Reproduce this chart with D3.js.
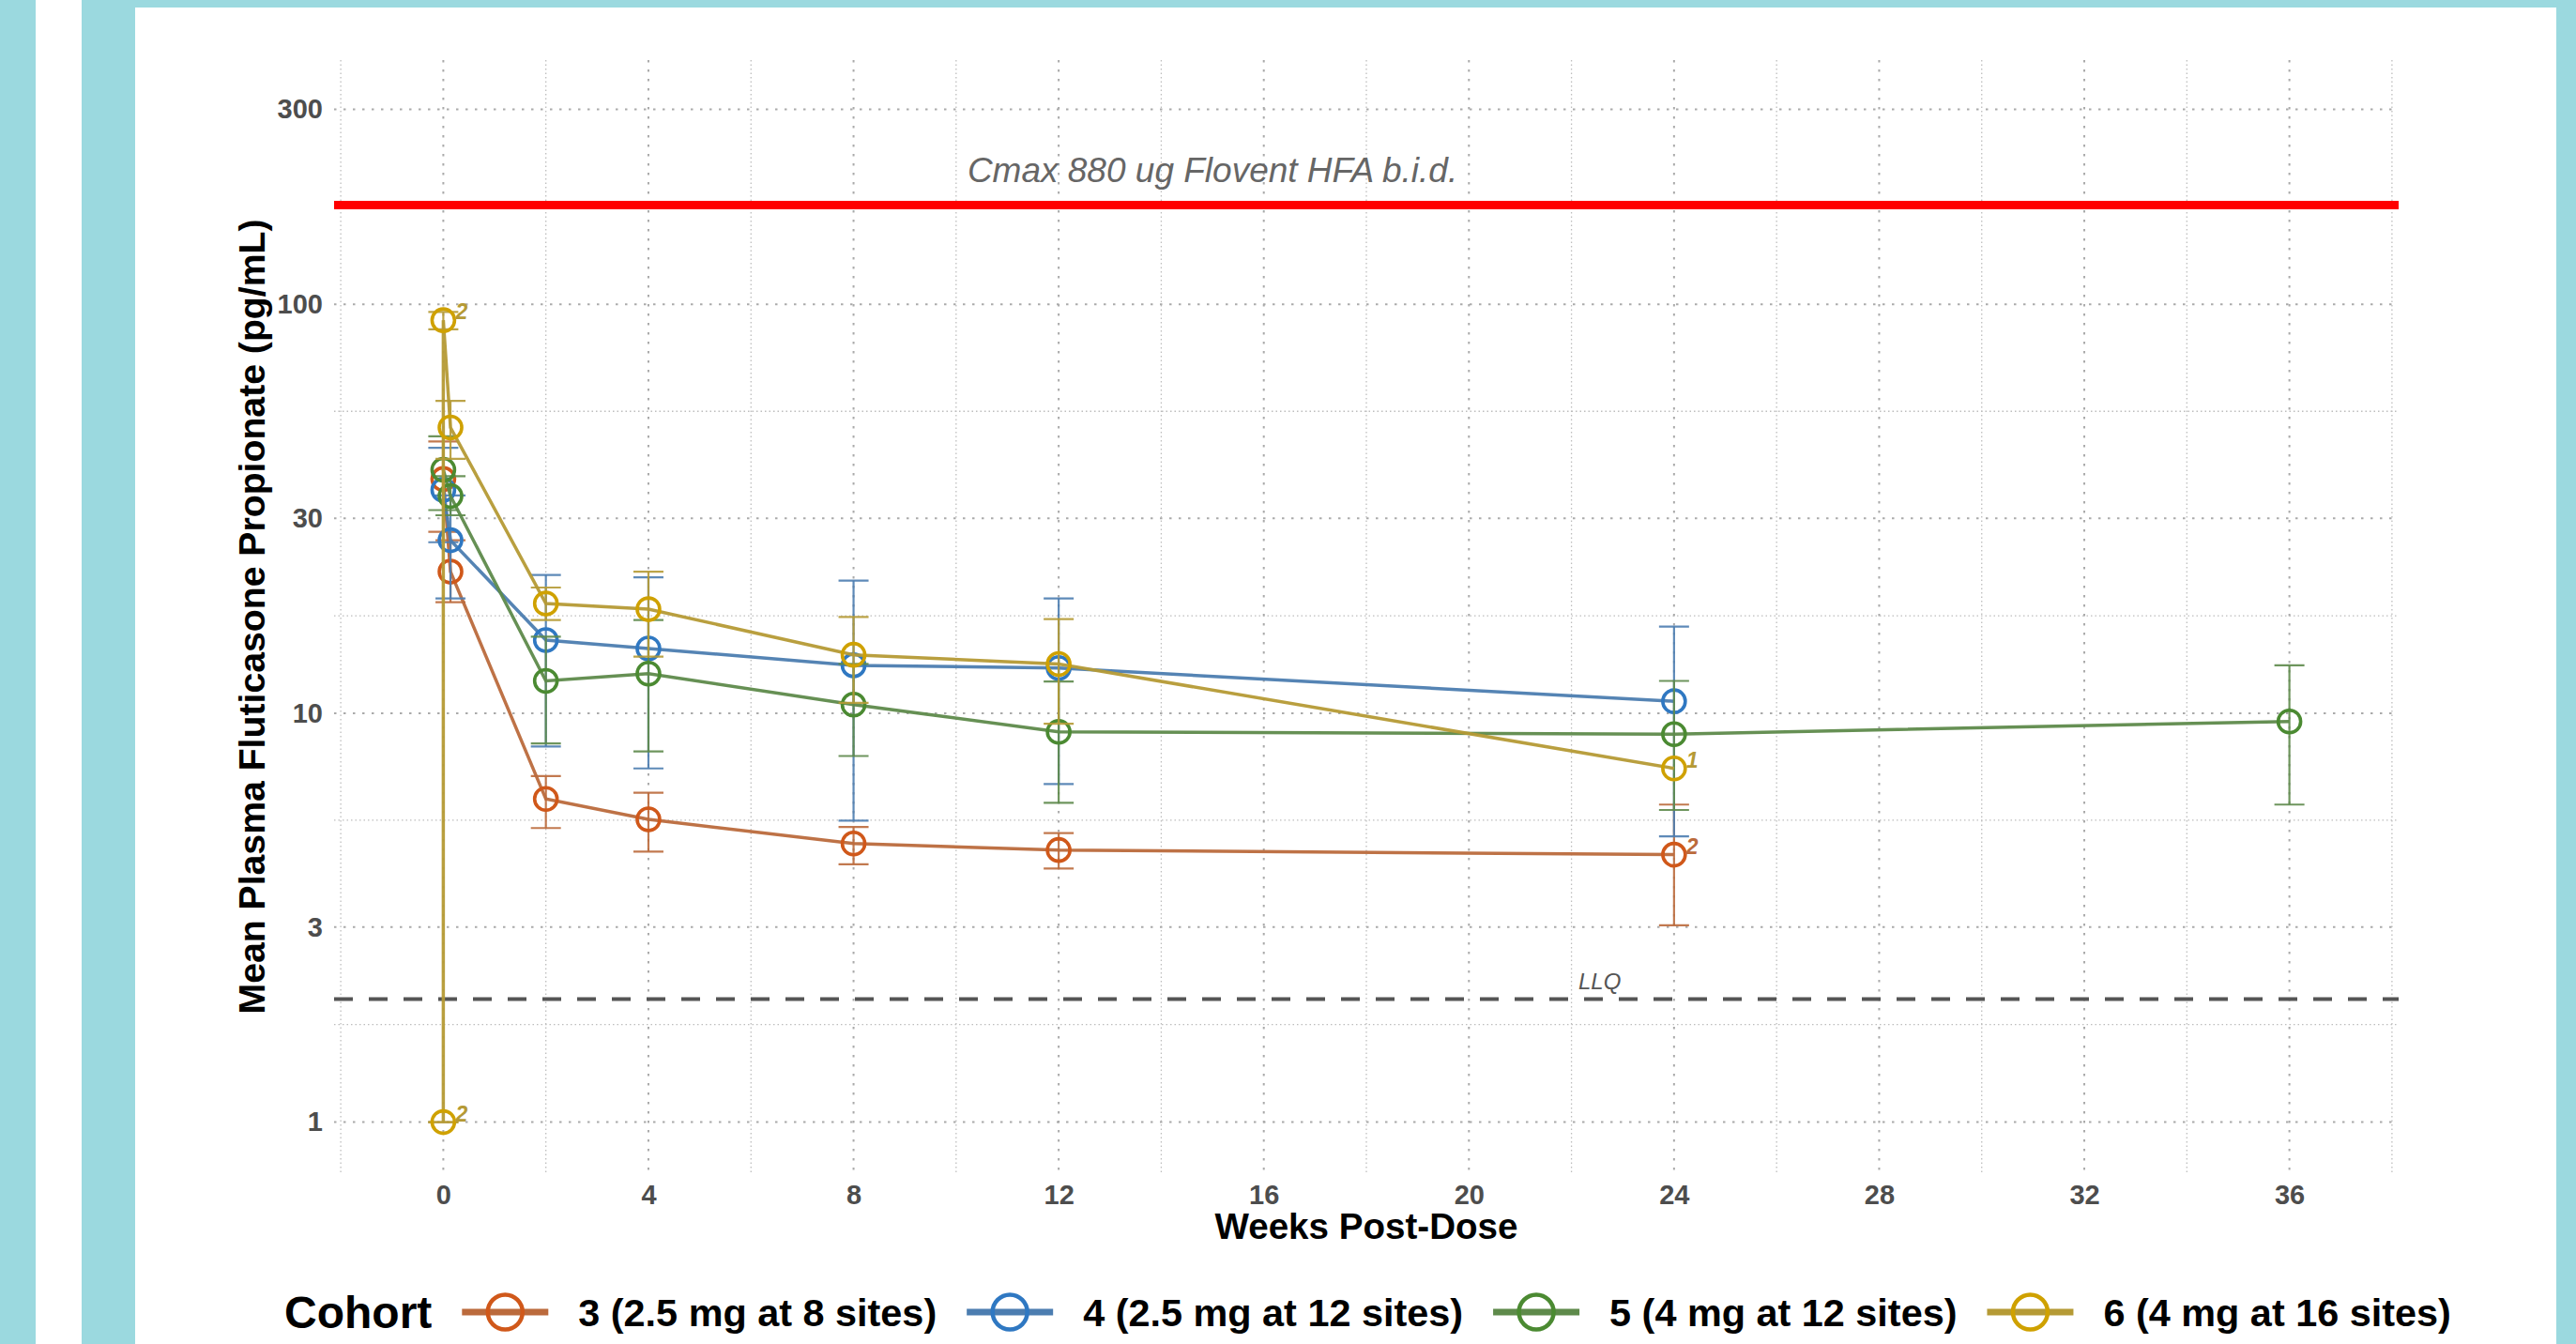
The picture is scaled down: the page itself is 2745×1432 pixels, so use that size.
<!DOCTYPE html>
<html>
<head>
<meta charset="utf-8">
<script src="https://cdn.jsdelivr.net/npm/d3@7"></script>
<style>
  html, body { margin: 0; padding: 0; background: #9bd9df; }
  svg { display: block; font-family: "Liberation Sans", Arial, sans-serif; }
</style>
</head>
<body>
<svg id="chart" width="2745" height="1432"></svg>
<script>
// --- data ---
const cohortNames = ['3 (2.5 mg at 8 sites)', '4 (2.5 mg at 12 sites)', '5 (4 mg at 12 sites)', '6 (4 mg at 16 sites)'];

const weeks3 = [0, 0.14, 2, 4, 8, 12, 24];
const mean3  = [37.4, 22.2, 6.17, 5.50, 4.80, 4.63, 4.51];
const lo3    = [27.8, 18.7, 5.24, 4.59, 4.27, 4.17, 3.03];
const hi3    = [46.2, 26.5, 7.02, 6.39, 5.27, 5.09, 5.98];
const n3     = ['', '', '', '', '', '', '2'];

const weeks4 = [0, 0.14, 2, 4, 8, 12, 24];
const mean4  = [35.2, 26.5, 15.1, 14.4, 13.1, 12.9, 10.7];
const lo4    = [26.2, 19.1, 8.29, 7.33, 5.46, 6.71, 5.0];
const hi4    = [44.6, 34.1, 21.8, 21.5, 21.1, 19.1, 16.3];
const n4     = ['', '', '', '', '', '', ''];

const weeks5 = [0, 0.14, 2, 4, 8, 12, 24, 36];
const mean5  = [39.4, 34.0, 12.0, 12.5, 10.5, 9.01, 8.89, 9.55];
const lo5    = [31.4, 30.5, 8.44, 8.07, 7.86, 6.04, 5.80, 5.98];
const hi5    = [47.6, 38.0, 15.4, 16.9, 13.2, 11.96, 12.0, 13.1];
const n5     = ['', '', '', '', '', '', '', ''];

const weeks6 = [0, 0, 0.14, 2, 4, 8, 12, 24];
const mean6  = [1.0, 91.5, 50.0, 18.55, 17.97, 13.9, 13.2, 7.33];
const lo6    = [1.0, 86.9, 41.9, 16.9, 13.75, 10.6, 9.43, null];
const hi6    = [1.0, 95.9, 58.1, 20.3, 22.2, 17.2, 17.0, null];
const n6     = ['2', '2', '', '', '', '', '', '1'];

const yTicks = [1, 3, 10, 30, 100, 300];
const xTicks = [0, 4, 8, 12, 16, 20, 24, 28, 32, 36];
const cmaxValue = 175;
const cmaxLabel = 'Cmax 880 ug Flovent HFA b.i.d.';
const llqValue = 2;
const llqLabel = 'LLQ';

// --- styles ---
const markerColors = ['#d0581a', '#2f78c2', '#4b8a32', '#cfa100'];
const lineColors   = ['#bb6a3c', '#4c7db0', '#5e8a4b', '#b59a35'];

const series = [
  { w: weeks3, m: mean3, lo: lo3, hi: hi3, n: n3 },
  { w: weeks4, m: mean4, lo: lo4, hi: hi4, n: n4 },
  { w: weeks5, m: mean5, lo: lo5, hi: hi5, n: n5 },
  { w: weeks6, m: mean6, lo: lo6, hi: hi6, n: n6 },
].map((s, i) => ({
  name: cohortNames[i], idx: i,
  points: s.w.map((w, j) => ({ week: w, mean: s.m[j], lo: s.lo[j], hi: s.hi[j], n: s.n[j] }))
}));

const svg = d3.select('#chart');

// background panels
svg.append('rect').attr('x', 38).attr('y', 0).attr('width', 49).attr('height', 1432).attr('fill', '#fff');
svg.append('rect').attr('x', 144).attr('y', 8).attr('width', 2580).attr('height', 1424).attr('fill', '#fff');

const x = d3.scaleLinear().domain([-2.13, 38.13]).range([356, 2556]);
const y = d3.scaleLog().domain([0.75, 396]).range([1250, 64]);
const [px0, px1] = x.range();
const [py0, py1] = [y.range()[1], y.range()[0]];

// --- grid ---
const grid = svg.append('g');
const yMinor = d3.pairs(yTicks).map(([a, b]) => Math.sqrt(a * b));
const xMinor = d3.range(-2, 39, 4);

grid.selectAll('line.ymin').data(yMinor).enter().append('line')
  .attr('x1', px0).attr('x2', px1).attr('y1', d => y(d)).attr('y2', d => y(d))
  .attr('stroke', '#bdbdbd').attr('stroke-width', 1.3).attr('stroke-dasharray', '1.5,3');
grid.selectAll('line.xmin').data(xMinor).enter().append('line')
  .attr('y1', py0).attr('y2', py1).attr('x1', d => x(d)).attr('x2', d => x(d))
  .attr('stroke', '#bdbdbd').attr('stroke-width', 1.3).attr('stroke-dasharray', '1.5,3');
grid.selectAll('line.ymaj').data(yTicks).enter().append('line')
  .attr('x1', px0).attr('x2', px1).attr('y1', d => y(d)).attr('y2', d => y(d))
  .attr('stroke', '#aaaaaa').attr('stroke-width', 2).attr('stroke-dasharray', '2.5,7.5');
grid.selectAll('line.xmaj').data(xTicks).enter().append('line')
  .attr('y1', py0).attr('y2', py1).attr('x1', d => x(d)).attr('x2', d => x(d))
  .attr('stroke', '#aaaaaa').attr('stroke-width', 2).attr('stroke-dasharray', '2.5,7.5');

// --- axes (labels only, no lines) ---
const yAxis = svg.append('g').attr('transform', `translate(${px0},0)`)
  .call(d3.axisLeft(y).tickValues(yTicks).tickFormat(d3.format('d')).tickSize(0).tickPadding(12));
const xAxis = svg.append('g').attr('transform', `translate(0,${py1})`)
  .call(d3.axisBottom(x).tickValues(xTicks).tickSize(0).tickPadding(12));
[yAxis, xAxis].forEach(a => {
  a.select('.domain').remove();
  a.selectAll('text').attr('font-family', '"Liberation Sans", Arial, sans-serif')
    .attr('font-size', 29).attr('font-weight', 'bold').attr('fill', '#4d4d4d');
});

svg.append('text').attr('x', (px0 + px1) / 2).attr('y', 1320)
  .attr('text-anchor', 'middle').attr('font-size', 38.6).attr('font-weight', 'bold').attr('fill', '#000')
  .text('Weeks Post-Dose');
svg.append('text').attr('transform', `translate(282,${(py0 + py1) / 2}) rotate(-90)`)
  .attr('text-anchor', 'middle').attr('font-size', 39.2).attr('font-weight', 'bold').attr('fill', '#000')
  .text('Mean Plasma Fluticasone Propionate (pg/mL)');

// --- reference lines ---
svg.append('line').attr('x1', px0).attr('x2', px1).attr('y1', y(cmaxValue)).attr('y2', y(cmaxValue))
  .attr('stroke', '#ff0000').attr('stroke-width', 9);
svg.append('text').attr('x', x(15)).attr('y', y(cmaxValue) - 24)
  .attr('text-anchor', 'middle').attr('font-size', 37).attr('font-style', 'italic').attr('fill', '#666')
  .text(cmaxLabel);
svg.append('line').attr('x1', px0).attr('x2', px1).attr('y1', y(llqValue)).attr('y2', y(llqValue))
  .attr('stroke', '#555').attr('stroke-width', 4).attr('stroke-dasharray', '20,17');
svg.append('text').attr('x', x(22.55)).attr('y', y(llqValue) - 10)
  .attr('text-anchor', 'middle').attr('font-size', 24).attr('font-style', 'italic').attr('fill', '#555')
  .text(llqLabel);

// --- series ---
const capW = 16;
const line = d3.line().x(d => x(d.week)).y(d => y(d.mean));

const sg = svg.selectAll('g.series').data(series).enter().append('g').attr('class', 'series');

sg.each(function (s) {
  const g = d3.select(this);
  const bars = s.points.filter(p => p.lo != null);
  const eb = g.append('g').attr('stroke', lineColors[s.idx]).attr('stroke-width', 2.2).attr('stroke-opacity', 0.9);
  eb.selectAll('line.v').data(bars).enter().append('line')
    .attr('x1', d => x(d.week)).attr('x2', d => x(d.week)).attr('y1', d => y(d.lo)).attr('y2', d => y(d.hi));
  eb.selectAll('line.lo').data(bars).enter().append('line')
    .attr('x1', d => x(d.week) - capW).attr('x2', d => x(d.week) + capW).attr('y1', d => y(d.lo)).attr('y2', d => y(d.lo));
  eb.selectAll('line.hi').data(bars).enter().append('line')
    .attr('x1', d => x(d.week) - capW).attr('x2', d => x(d.week) + capW).attr('y1', d => y(d.hi)).attr('y2', d => y(d.hi));
});

sg.append('path').attr('d', s => line(s.points)).attr('fill', 'none')
  .attr('stroke', s => lineColors[s.idx]).attr('stroke-width', 3.5).attr('stroke-opacity', 0.95);

sg.each(function (s) {
  const g = d3.select(this);
  g.selectAll('circle').data(s.points).enter().append('circle')
    .attr('cx', d => x(d.week)).attr('cy', d => y(d.mean)).attr('r', 12)
    .attr('fill', 'none').attr('stroke', markerColors[s.idx]).attr('stroke-width', 3.6);
  g.selectAll('text').data(s.points.filter(p => p.n)).enter().append('text')
    .attr('x', d => x(d.week) + 13).attr('y', d => y(d.mean) - 1)
    .attr('font-size', 23).attr('font-weight', 'bold').attr('font-style', 'italic')
    .attr('fill', lineColors[s.idx]).text(d => d.n);
});

// --- legend ---
const legY = 1398;
const gap = 32;
const leg = svg.append('g');
const title = leg.append('text').attr('x', 303).attr('y', legY).attr('dy', '0.36em')
  .attr('font-size', 48).attr('font-weight', 'bold').attr('fill', '#000').text('Cohort');
let cx = 303 + title.node().getComputedTextLength() + gap;
series.forEach(s => {
  leg.append('line').attr('x1', cx).attr('x2', cx + 92).attr('y1', legY).attr('y2', legY)
    .attr('stroke', lineColors[s.idx]).attr('stroke-width', 7);
  leg.append('circle').attr('cx', cx + 46).attr('cy', legY).attr('r', 18.5)
    .attr('fill', 'none').attr('stroke', markerColors[s.idx]).attr('stroke-width', 4.5);
  cx += 92 + gap;
  const t = leg.append('text').attr('x', cx).attr('y', legY).attr('dy', '0.36em')
    .attr('font-size', 41.4).attr('font-weight', 'bold').attr('fill', '#000').text(s.name);
  cx += t.node().getComputedTextLength() + gap;
});
</script>
</body>
</html>
